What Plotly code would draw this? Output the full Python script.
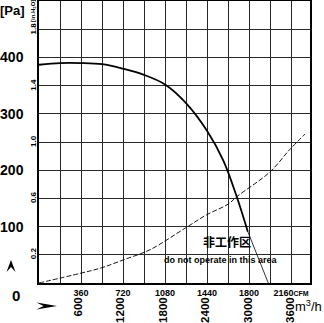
import plotly.graph_objects as go

# ---- data ----
cfm_ticks = [360, 720, 1080, 1440, 1800, 2160]
cfm_ticktext = ["360", "720", "1080", "1440", "1800", "2160<span style='font-size:7px'>CFM</span>"]
m3h_ticks = [600, 1200, 1800, 2400, 3000, 3600]
pa_ticks = [100, 200, 300, 400]
inh2o_ticks = [0.2, 0.6, 1.0, 1.4, 1.8]

# fan pressure curve (CFM, Pa)
fan_cfm = [0, 180, 360, 540, 720, 900, 1080, 1260, 1440, 1580, 1695, 1790]
fan_pa = [387, 390, 390, 388, 380, 369, 352, 319, 270, 217, 153, 91]
# thin continuation into the "do not operate" region
tail_cfm = [1790, 1880, 1965]
tail_pa = [91, 45, 0]
# system resistance curve (dashed)
sys_cfm = [0, 351, 537, 723, 951, 1251, 1437, 1623, 1695, 1980, 2151, 2280]
sys_pa = [0, 17, 27, 41, 59, 97, 121, 140, 153, 197, 237, 264]

# ---- geometry ----
W, H = 324, 323
L, R, T, B = 39, 310, 1, 283

def px(x):
    return (x - L) / (R - L)

def py(y):
    return (B - y) / (B - T)

SANS = "Liberation Sans, Arial, sans-serif"

fig = go.Figure()
fig.add_trace(go.Scatter(x=fan_cfm, y=fan_pa, mode="lines", line=dict(color="black", width=1.8, shape="spline"),
                         showlegend=False, hoverinfo="skip"))
fig.add_trace(go.Scatter(x=tail_cfm, y=tail_pa, mode="lines", line=dict(color="black", width=0.8),
                         showlegend=False, hoverinfo="skip"))
fig.add_trace(go.Scatter(x=sys_cfm, y=sys_pa, mode="lines", line=dict(color="black", width=0.9, dash="5px,2px", shape="spline"),
                         showlegend=False, hoverinfo="skip"))
# dummy trace to activate the secondary axes
fig.add_trace(go.Scatter(x=[None], y=[None], xaxis="x2", yaxis="y2", showlegend=False, hoverinfo="skip"))

grid = "#2a2a2a"
fig.update_layout(
    template="none",
    width=W, height=H,
    margin=dict(l=L, r=W - R, t=T, b=H - B, pad=0),
    paper_bgcolor="white", plot_bgcolor="white",
    xaxis=dict(range=[0, (R - L) / 21 * 180], tickvals=cfm_ticks, ticktext=cfm_ticktext,
               showgrid=True, gridcolor=grid, gridwidth=1, automargin=False,
               minor=dict(tick0=0, dtick=180, showgrid=True, gridcolor=grid, gridwidth=1),
               showline=True, linecolor="black", linewidth=1.5, mirror=True,
               ticks="", zeroline=False,
               tickfont=dict(family=SANS, size=9, color="black", weight="bold")),
    yaxis=dict(range=[0, 500], tickvals=pa_ticks, ticktext=[str(v) for v in pa_ticks],
               showgrid=True, gridcolor=grid, gridwidth=1, automargin=False,
               minor=dict(tick0=0, dtick=50, showgrid=True, gridcolor=grid, gridwidth=1),
               showline=True, linecolor="black", linewidth=1.5, mirror=True,
               ticks="", zeroline=False, ticklabelstandoff=11,
               tickfont=dict(family=SANS, size=14, color="black", weight="bold")),
    xaxis2=dict(overlaying="x", side="bottom", anchor="y2", range=[45, 3880], automargin=False,
                tickvals=m3h_ticks, ticktext=[str(v) for v in m3h_ticks], tickangle=-90,
                showgrid=False, showline=False, ticks="", zeroline=False, ticklabelstandoff=11,
                tickfont=dict(family=SANS, size=11.5, color="black", weight="bold")),
    yaxis2=dict(overlaying="y", side="left", anchor="x2", range=[0, 500 / 249.089],
                tickvals=inh2o_ticks, ticktext=[f"{v:.1f}" for v in inh2o_ticks], tickangle=-90,
                showgrid=False, showline=False, ticks="", zeroline=False, automargin=False,
                tickfont=dict(family=SANS, size=8, color="black", weight="bold")),
)

ann = [
    dict(text="<b>[Pa]</b>", x=px(12), y=py(10.5), font=dict(family=SANS, size=13)),
    dict(text="<b>0</b>", x=px(22), y=py(295), xanchor="right", font=dict(family=SANS, size=15)),
    dict(text="<b>[in.H<sub>2</sub>O]</b>", x=px(33), y=py(11), textangle=-90, font=dict(family=SANS, size=6)),
    dict(text="<b>非工作区</b>", x=px(226.7), y=py(241.5), font=dict(family="Noto Sans CJK SC", size=12)),
    dict(text="<b>do not operate in this area</b>", x=px(221), y=py(260), font=dict(family=SANS, size=9)),
    dict(text="m<sup>3</sup>/h", x=px(324), y=py(306), xanchor="right", font=dict(family=SANS, size=13)),
]
for a in ann:
    a.setdefault("xanchor", "center")
    a.update(xref="paper", yref="paper", showarrow=False, yanchor="middle")
    a["font"]["color"] = "black"
    fig.add_annotation(**a)

def path(points):
    return "M " + " L ".join(f"{px(x):.4f},{py(y):.4f}" for x, y in points) + " Z"

fig.add_shape(type="path", xref="paper", yref="paper", fillcolor="black", line=dict(width=0),
              path=path([(11, 260), (15.5, 272), (11, 267), (6.5, 272)]))
fig.add_shape(type="path", xref="paper", yref="paper", fillcolor="black", line=dict(width=0),
              path=path([(57, 306), (36.5, 302.5), (43.5, 306), (36.5, 309.5)]))

fig.write_html("out.html")
